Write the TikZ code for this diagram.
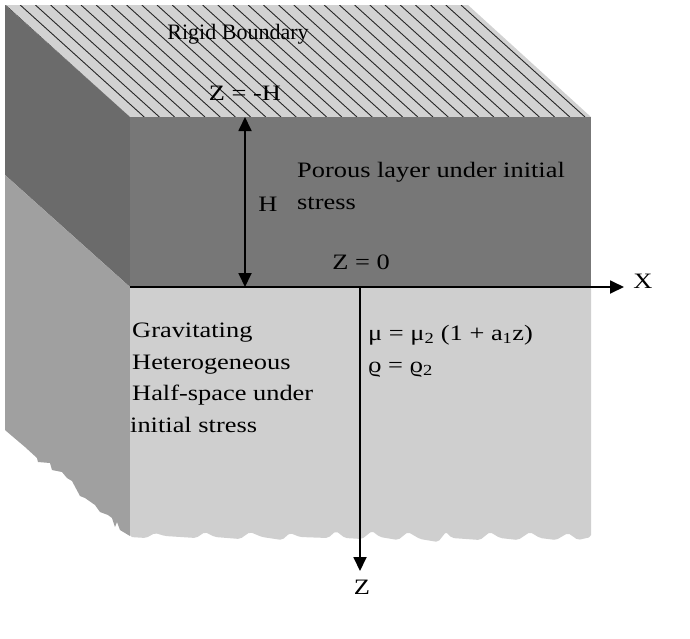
\documentclass[tikz,border=0pt]{standalone}
\usepackage{fontspec}
\setmainfont{Liberation Serif}
\newfontfamily\widefont[FakeStretch=1.2]{Liberation Serif}
\usetikzlibrary{arrows.meta}
\definecolor{topgray}{HTML}{D2D2D2}
\definecolor{sideup}{HTML}{6B6B6B}
\definecolor{frontup}{HTML}{777777}
\definecolor{sidelow}{HTML}{A0A0A0}
\definecolor{frontlow}{HTML}{CFCFCF}
\begin{document}
\begin{tikzpicture}[x=1pt,y=-1pt,
  lbl/.style={inner sep=0pt, anchor=base west, font=\widefont\fontsize{22}{26}\selectfont},
  clbl/.style={lbl, anchor=base},
  plainlbl/.style={inner sep=0pt, anchor=base, font=\fontsize{22}{26}\selectfont},
  axisarrow/.style={line width=1.8pt, -{Triangle[length=14pt,width=13pt]}},
  dblarrow/.style={line width=1.8pt, {Triangle[length=14pt,width=13pt]}-{Triangle[length=14pt,width=13pt]}},
  hatchline/.style={line width=0.9pt, black!85}]
\useasboundingbox (0,0) rectangle (690,638);
% top face with hatching
\begin{scope}
  \clip (5,5) -- (468,5) -- (591,117) -- (130,117) -- cycle;
  \fill[topgray] (0,0) rectangle (600,120);
  \foreach \k in {0,...,31} \draw[hatchline] ({5+15.2*\k},5) -- ++(124,112);
\end{scope}
% left side faces
\fill[sideup] (5,5) -- (130,117) -- (130,287) -- (5,175) -- cycle;
\fill[sidelow] (5,175) -- (130,287) -- (130,536) -- (125,533) -- (120,530) -- (117,522) -- (115,527)
  -- (112,518) -- (108,515) -- (100,512) -- (95,505) -- (85,498) -- (80,496) -- (72,481) -- (67,478)
  -- (62,472) -- (52,470) -- (50,463) -- (38,462) -- (37,458) -- (25,447) -- (12,436) -- (5,430) -- cycle;
% front faces
\fill[frontup] (130,117) rectangle (591,287);
\fill[frontlow, rounded corners=2pt] (130,287) -- (591,287) -- (591,537) -- (578,540) -- (568,533)
  -- (556,540) -- (540,538) -- (530,532) -- (518,540) -- (500,538) -- (490,532) -- (480,540)
  -- (452,538) -- (446,532) -- (438,542) -- (420,539) -- (408,532) -- (398,540) -- (380,537)
  -- (372,531) -- (362,539) -- (345,538) -- (336,531) -- (328,538) -- (300,537) -- (290,533)
  -- (282,540) -- (262,537) -- (250,532) -- (240,539) -- (215,537) -- (205,532) -- (196,538)
  -- (165,536) -- (155,533) -- (146,538) -- (130,537) -- cycle;
% named points
\coordinate (htop) at (245,117);
\coordinate (hbot) at (245,287);
\coordinate (O) at (130,287);
\coordinate (xend) at (624,287);
\coordinate (zstart) at (360,287);
\coordinate (zend) at (360,571);
% labels
\node[plainlbl] (rigid) at (238,39.5) {Rigid Boundary};
\node[clbl] (zmh) at (245,100) {Z = -H};
\node[clbl] (hlbl) at (268,211) {H};
\node[lbl] (por1) at (297,177) {Porous layer under initial};
\node[lbl] (por2) at (297,209) {stress};
\node[clbl] (z0) at (361,269) {Z = 0};
\node[clbl] (xlbl) at (643,288) {X};
\node[clbl] (zlbl) at (362,594) {Z};
\node[lbl] (g1) at (132,337) {Gravitating};
\node[lbl] (g2) at (132,369) {Heterogeneous};
\node[lbl] (g3) at (132,400) {Half-space under};
\node[lbl] (g4) at (130,432) {initial stress};
\node[lbl] (mu) at (368,340) {μ = μ\textsubscript{2} (1 + a\textsubscript{1}z)};
\node[lbl] (rho) at (368,372) {ϱ = ϱ\textsubscript{2}};
% arrows
\draw[dblarrow] (htop) -- (hbot);
\draw[axisarrow] (O) -- (xend);
\draw[axisarrow] (zstart) -- (zend);
\end{tikzpicture}
\end{document}
